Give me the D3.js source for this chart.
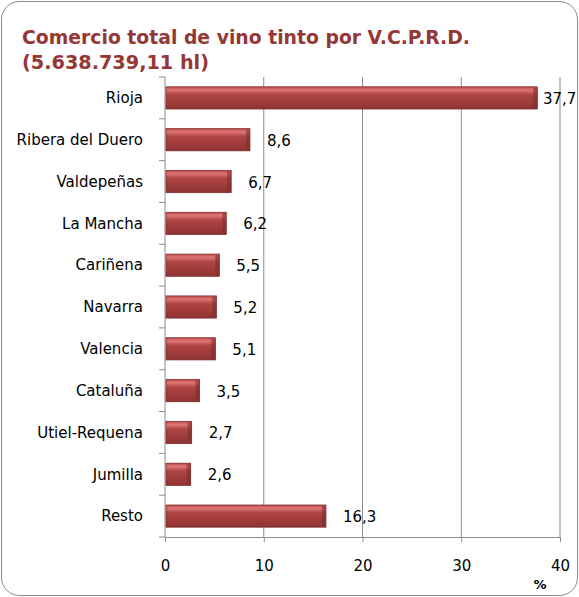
<!DOCTYPE html>
<html>
<head>
<meta charset="utf-8">
<script src="https://d3js.org/d3.v7.min.js"></script>
<style>
    body { margin: 0; background: #fff; }
    text { font-family: "DejaVu Sans", sans-serif; }
</style>
</head>
<body>
<svg width="579" height="597"></svg>
<script>
    // chart values
    const regions = ["Rioja", "Ribera del Duero", "Valdepeñas", "La Mancha", "Cariñena",
        "Navarra", "Valencia", "Cataluña", "Utiel-Requena", "Jumilla", "Resto"];
    const shares = [37.7, 8.6, 6.7, 6.2, 5.5, 5.2, 5.1, 3.5, 2.7, 2.6, 16.3];
    const xTicks = [0, 10, 20, 30, 40];
    const titleLines = ["Comercio total de vino tinto por V.C.P.R.D.", "(5.638.739,11 hl)"];

    const data = regions.map((r, i) => ({ region: r, value: shares[i] }));

    const svg = d3.select("svg");
    const margin = { top: 77, right: 19, bottom: 60, left: 165 };
    const width = 579 - margin.left - margin.right;
    const height = 597 - margin.top - margin.bottom;

    // outer rounded frame
    svg.append("rect")
        .attr("x", 1.5).attr("y", 1.5)
        .attr("width", 576).attr("height", 594)
        .attr("rx", 18).attr("ry", 18)
        .attr("fill", "#fff")
        .attr("stroke", "#8c8c8c")
        .attr("stroke-width", 1);

    // bar gradient (Excel-like bevel)
    const defs = svg.append("defs");
    const grad = defs.append("linearGradient")
        .attr("id", "barGrad")
        .attr("x1", 0).attr("y1", 0).attr("x2", 0).attr("y2", 1);
    grad.append("stop").attr("offset", "0%").attr("stop-color", "#bf4d4d");
    grad.append("stop").attr("offset", "15%").attr("stop-color", "#de7676");
    grad.append("stop").attr("offset", "35%").attr("stop-color", "#b04444");
    grad.append("stop").attr("offset", "100%").attr("stop-color", "#8f3333");

    // title
    const titleWidths = [448, 187];
    svg.append("text")
        .attr("fill", "#953735")
        .style("font-size", "20px")
        .style("font-weight", "bold")
        .selectAll("tspan")
        .data(titleLines)
        .enter()
        .append("tspan")
        .attr("x", 22)
        .attr("y", (d, i) => 44 + i * 25)
        .attr("textLength", (d, i) => titleWidths[i])
        .attr("lengthAdjust", "spacingAndGlyphs")
        .text(d => d);

    const g = svg.append("g").attr("transform", `translate(${margin.left},${margin.top})`);

    const x = d3.scaleLinear().domain([0, 40]).range([0, width]);
    const y = d3.scaleBand().domain(regions).range([0, height]).paddingInner(0.47).paddingOuter(0.235);

    // vertical gridlines
    g.selectAll(".grid")
        .data(xTicks.slice(1))
        .enter()
        .append("line")
        .attr("x1", d => x(d)).attr("x2", d => x(d))
        .attr("y1", 0).attr("y2", height)
        .attr("stroke", "#8c8c8c");

    // bottom axis
    const xAxis = g.append("g")
        .attr("transform", `translate(0,${height})`)
        .call(d3.axisBottom(x).tickValues(xTicks).tickSize(5).tickPadding(18));
    xAxis.select(".domain").attr("stroke", "#8c8c8c");
    xAxis.selectAll(".tick line").attr("stroke", "#8c8c8c");
    xAxis.selectAll(".tick text")
        .style("font-size", "15px")
        .attr("fill", "#000");

    // left axis: line plus ticks at band boundaries
    g.append("line")
        .attr("x1", 0).attr("x2", 0).attr("y1", 0).attr("y2", height)
        .attr("stroke", "#8c8c8c");
    const step = height / regions.length;
    g.selectAll(".ytick")
        .data(d3.range(regions.length + 1))
        .enter()
        .append("line")
        .attr("x1", -6).attr("x2", 0)
        .attr("y1", d => d * step).attr("y2", d => d * step)
        .attr("stroke", "#8c8c8c");

    // category labels
    g.selectAll(".cat")
        .data(data)
        .enter()
        .append("text")
        .attr("x", -22)
        .attr("y", d => y(d.region) + y.bandwidth() / 2)
        .attr("dy", "0.35em")
        .attr("text-anchor", "end")
        .style("font-size", "15px")
        .text(d => d.region);

    // bars
    const bars = g.selectAll(".bar")
        .data(data)
        .enter()
        .append("g");
    bars.append("rect")
        .attr("x", 1)
        .attr("y", d => y(d.region))
        .attr("width", d => x(d.value) - 1)
        .attr("height", y.bandwidth())
        .attr("fill", "url(#barGrad)")
        .attr("stroke", "#7d2a2a")
        .attr("stroke-width", 0.8);
    // darker bevel on right end
    bars.append("rect")
        .attr("x", d => x(d.value) - 4)
        .attr("y", d => y(d.region) + 1)
        .attr("width", 4)
        .attr("height", y.bandwidth() - 2)
        .attr("fill", "#7f2e2e")
        .attr("opacity", 0.6);

    // value labels
    g.selectAll(".val")
        .data(data)
        .enter()
        .append("text")
        .attr("x", d => Math.min(x(d.value) + 17, width - 17))
        .attr("y", d => y(d.region) + y.bandwidth() / 2)
        .attr("dy", "0.4em")
        .style("font-size", "15px")
        .text(d => d3.format(".1f")(d.value).replace(".", ","));

    // unit
    svg.append("text")
        .attr("x", 540)
        .attr("y", 589)
        .attr("text-anchor", "middle")
        .style("font-size", "13px")
        .style("font-weight", "bold")
        .text("%");
</script>
</body>
</html>
